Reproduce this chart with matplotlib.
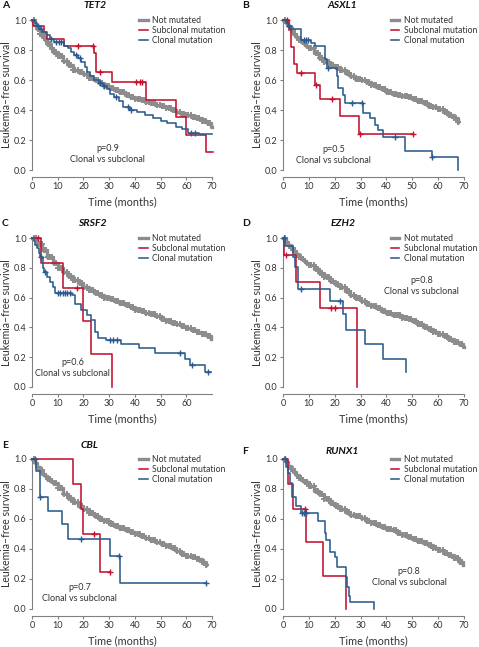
import numpy as np
import matplotlib
matplotlib.use("Agg")
import matplotlib.pyplot as plt

plt.rcParams['font.family'] = ['Lato', 'DejaVu Sans']

GRAY = '#8c8c8c'
RED = '#c4122f'
BLUE = '#2a5b8c'
SPINE = '#808080'
TXT = '#333333'

panel_letters = ['A', 'B', 'C', 'D', 'E', 'F']
genes = ['TET2', 'ASXL1', 'SRSF2', 'EZH2', 'CBL', 'RUNX1']
pvals = ['p=0.9', 'p=0.5', 'p=0.6', 'p=0.8', 'p=0.7', 'p=0.8']
comparison = 'Clonal vs subclonal'
legend_labels = ['Not mutated', 'Subclonal mutation', 'Clonal mutation']
y_ticks = [0.0, 0.2, 0.4, 0.6, 0.8, 1.0]
x_ticks_full = [0, 10, 20, 30, 40, 50, 60, 70]
x_ticks_c = [0, 10, 20, 30, 40, 50, 60]

# shared censoring times drawn on the "not mutated" curves
gray_censor = [0.8, 1.6, 2.3, 3.1, 3.8, 4.6, 5.3, 6.1, 6.9, 7.6, 8.4, 9.2, 10.1, 10.9,
               11.8, 12.6, 13.5, 14.3, 15.2, 16.0, 16.9, 17.8, 18.6, 19.5, 20.4, 21.2,
               22.1, 23.0, 23.8, 24.7, 25.5, 26.4, 27.3, 28.1, 29.0, 29.9, 30.7, 31.6,
               32.5, 33.3, 34.2, 35.1, 35.9, 36.8, 37.6, 38.5, 39.4, 40.2, 41.1, 41.9,
               42.8, 43.6, 44.5, 45.4, 46.2, 47.1, 47.9, 48.8, 49.6, 50.5, 51.4, 52.2,
               53.1, 53.9, 54.8, 55.7, 56.5, 57.4, 58.2, 59.1, 60.0, 60.8, 61.7, 62.5,
               63.4, 64.2, 65.1, 66.0, 66.8, 67.7, 68.5, 69.3]

# ---------------- A: TET2 ----------------
a_gray_t = [1, 2, 3, 4, 5, 6, 7, 8, 10, 12, 14, 16, 18, 20, 22, 24, 26, 28, 30, 32, 34, 36,
            38, 40, 42, 44, 46, 48, 50, 52, 54, 56, 58, 60, 62, 64, 66, 68, 69.5]
a_gray_s = [0.97, 0.94, 0.91, 0.89, 0.87, 0.84, 0.81, 0.79, 0.76, 0.73, 0.70, 0.67, 0.655,
            0.64, 0.615, 0.60, 0.58, 0.56, 0.545, 0.535, 0.52, 0.50, 0.49, 0.475, 0.465,
            0.455, 0.445, 0.435, 0.425, 0.415, 0.40, 0.385, 0.375, 0.365, 0.355, 0.345,
            0.33, 0.315, 0.29]
a_gray_end = 70
a_red_t = [0.5, 4.5, 6.0, 12.3, 24.0, 24.8, 31.0, 44.3, 56.0, 60.0, 67.5]
a_red_s = [0.96, 0.92, 0.875, 0.83, 0.78, 0.655, 0.59, 0.47, 0.355, 0.235, 0.118]
a_red_cens = [17.8, 23.8, 26.6, 40.4, 41.9, 42.8]
a_red_end = 70.5
a_blue_t = [1, 2, 3, 4, 5.5, 7, 8.5, 12.5, 14, 15, 16.5, 18, 19, 20.5, 21.5, 22.5, 24, 26,
            27.5, 29, 30.5, 32, 34, 35.5, 38, 41, 44, 47, 50, 52.5, 56, 58.5, 60.7, 65]
a_blue_s = [0.98, 0.96, 0.94, 0.92, 0.90, 0.875, 0.855, 0.83, 0.81, 0.79, 0.77, 0.745, 0.72,
            0.69, 0.655, 0.625, 0.60, 0.58, 0.56, 0.54, 0.51, 0.49, 0.46, 0.42, 0.40, 0.385,
            0.365, 0.345, 0.33, 0.315, 0.29, 0.275, 0.25, 0.24]
a_blue_cens = [2.5, 3.5, 7.5, 9.5, 10.5, 11.2, 17.0, 18.5, 26.5, 28.0, 32.5, 37.4, 38.4,
               62.0, 63.3]
a_blue_end = 70

# ---------------- B: ASXL1 ----------------
b_gray_t = [1, 2, 3, 4, 5, 6, 7, 8, 9, 10, 12, 14, 16, 18, 20, 22, 24, 26, 28, 30, 32, 34,
            36, 38, 40, 42, 44, 46, 48, 50, 52, 54, 56, 58, 60, 62, 64, 66, 67.5]
b_gray_s = [0.98, 0.96, 0.935, 0.91, 0.89, 0.87, 0.855, 0.84, 0.826, 0.81, 0.78, 0.75,
            0.72, 0.70, 0.685, 0.67, 0.65, 0.63, 0.61, 0.60, 0.585, 0.57, 0.555, 0.54,
            0.52, 0.51, 0.50, 0.495, 0.49, 0.475, 0.46, 0.445, 0.43, 0.42, 0.405, 0.39,
            0.37, 0.345, 0.32]
b_gray_end = 67.8
b_red_t = [2.3, 3.0, 4.2, 5.3, 12.3, 14.2, 22.0, 29.2]
b_red_s = [0.94, 0.82, 0.71, 0.645, 0.57, 0.476, 0.357, 0.238]
b_red_cens = [1.5, 7.1, 12.8, 19.0, 29.6, 50.2]
b_red_end = 50.2
b_blue_t = [1.3, 2.0, 3.0, 7.1, 11.0, 12.5, 16.1, 17.0, 20.7, 21.3, 23.2, 24.0, 31.0,
            33.6, 35.5, 36.7, 38.5, 47.0, 57.5, 67.6]
b_blue_s = [0.98, 0.96, 0.94, 0.87, 0.85, 0.83, 0.74, 0.68, 0.625, 0.55, 0.50, 0.447,
            0.38, 0.345, 0.30, 0.265, 0.22, 0.13, 0.087, 0.0]
b_blue_cens = [2.5, 8.0, 9.0, 9.8, 17.4, 26.5, 30.5, 43.3, 57.6]
b_blue_end = 67.6

# ---------------- C: SRSF2 ----------------
c_gray_t = [2, 4, 6, 8, 10, 12, 14, 16, 18, 20, 22, 24, 26, 28, 30, 32, 34, 36, 38, 40,
            42, 44, 46, 48, 50, 52, 54, 56, 58, 60, 62, 64, 66, 68, 69.5]
c_gray_s = [0.96, 0.92, 0.87, 0.83, 0.80, 0.77, 0.745, 0.72, 0.695, 0.67, 0.65, 0.63,
            0.615, 0.60, 0.59, 0.58, 0.565, 0.55, 0.535, 0.52, 0.51, 0.50, 0.49, 0.475,
            0.455, 0.44, 0.43, 0.42, 0.41, 0.395, 0.38, 0.37, 0.355, 0.34, 0.32]
c_gray_end = 69.8
c_red_t = [3.6, 11.9, 19.9, 23.1, 31.2]
c_red_s = [0.833, 0.667, 0.444, 0.222, 0.0]
c_red_cens = [2.2, 17.6]
c_red_end = 31.2
c_blue_t = [0.6, 1.2, 1.9, 2.6, 3.2, 4.2, 4.6, 5.8, 7.0, 8.3, 9.0, 15.4, 16.7, 19.2,
            21.2, 23.1, 24.4, 25.6, 28.8, 34.6, 41.7, 48.0, 59.6, 61.5, 67.3]
c_blue_s = [0.98, 0.955, 0.93, 0.90, 0.87, 0.80, 0.77, 0.74, 0.705, 0.67, 0.63, 0.615,
            0.56, 0.52, 0.48, 0.45, 0.37, 0.33, 0.315, 0.29, 0.26, 0.225, 0.19, 0.147,
            0.10]
c_blue_cens = [3.5, 5.2, 10.0, 11.0, 12.0, 13.0, 13.6, 14.6, 30.5, 31.5, 33.0, 57.7,
               62.2, 68.5]
c_blue_end = 69.6

# ---------------- D: EZH2 ----------------
d_gray_t = [1, 2, 3, 4, 5, 6, 7, 8, 9, 10, 12, 14, 16, 18, 20, 22, 24, 26, 28, 30, 32, 34,
            36, 38, 40, 42, 44, 46, 48, 50, 52, 54, 56, 58, 60, 62, 64, 66, 68, 69.5]
d_gray_s = [0.975, 0.955, 0.935, 0.91, 0.89, 0.87, 0.86, 0.845, 0.835, 0.82, 0.79, 0.765,
            0.74, 0.71, 0.69, 0.67, 0.645, 0.615, 0.595, 0.575, 0.56, 0.545, 0.53, 0.51,
            0.495, 0.485, 0.48, 0.465, 0.455, 0.44, 0.425, 0.405, 0.39, 0.37, 0.355, 0.34,
            0.325, 0.305, 0.29, 0.27]
d_gray_end = 70
d_red_t = [0.3, 4.9, 14.2, 28.8]
d_red_s = [0.884, 0.705, 0.527, 0.0]
d_red_cens = [1.0, 18.7, 20.0]
d_red_end = 28.8
d_blue_t = [0.6, 3.9, 4.5, 5.8, 18.1, 23.3, 24.5, 31.7, 38.8, 47.4]
d_blue_s = [0.946, 0.873, 0.806, 0.656, 0.576, 0.493, 0.38, 0.288, 0.188, 0.098]
d_blue_cens = [0.3, 6.8, 22.2]
d_blue_end = 47.4

# ---------------- E: CBL ----------------
e_gray_t = [1, 2, 3, 4, 5, 6, 7, 8, 10, 12, 14, 16, 18, 20, 22, 24, 26, 28, 30, 32, 34,
            36, 38, 40, 42, 44, 46, 48, 50, 52, 54, 56, 58, 60, 62, 64, 66, 67.5]
e_gray_s = [0.975, 0.95, 0.925, 0.90, 0.885, 0.87, 0.855, 0.84, 0.805, 0.77, 0.74, 0.715,
            0.69, 0.665, 0.64, 0.62, 0.60, 0.585, 0.57, 0.555, 0.54, 0.53, 0.515, 0.50,
            0.49, 0.475, 0.46, 0.45, 0.435, 0.42, 0.405, 0.39, 0.37, 0.355, 0.345, 0.335,
            0.315, 0.295]
e_gray_end = 67.8
e_red_t = [16.1, 19.1, 20.0, 26.6]
e_red_s = [0.833, 0.667, 0.5, 0.25]
e_red_cens = [24.0, 30.2]
e_red_end = 30.2
e_blue_t = [1.7, 3.0, 6.3, 11.5, 14.1, 30.2, 34.2]
e_blue_s = [0.917, 0.75, 0.655, 0.564, 0.47, 0.353, 0.176]
e_blue_cens = [1.0, 3.1, 19.1, 33.8, 67.5]
e_blue_end = 67.5

# ---------------- F: RUNX1 ----------------
f_gray_t = [1, 2, 3, 4, 5, 6, 7, 8, 10, 12, 14, 16, 18, 20, 22, 24, 26, 28, 30, 32, 34,
            36, 38, 40, 42, 44, 46, 48, 50, 52, 54, 56, 58, 60, 62, 64, 66, 68, 69.5]
f_gray_s = [0.98, 0.955, 0.935, 0.915, 0.895, 0.875, 0.86, 0.845, 0.82, 0.79, 0.765,
            0.735, 0.71, 0.69, 0.665, 0.645, 0.63, 0.62, 0.605, 0.59, 0.575, 0.56, 0.545,
            0.535, 0.525, 0.51, 0.495, 0.48, 0.465, 0.455, 0.44, 0.425, 0.41, 0.395,
            0.375, 0.36, 0.34, 0.315, 0.295]
f_gray_end = 69.8
f_red_t = [1.9, 4.0, 8.8, 15.3, 24.5]
f_red_s = [0.833, 0.667, 0.444, 0.222, 0.0]
f_red_cens = [8.4]
f_red_end = 24.5
f_blue_t = [1.3, 1.9, 2.6, 3.6, 4.9, 7.1, 13.6, 16.1, 16.8, 18.1, 20.0, 20.7, 24.5,
            24.8, 25.6, 26.1, 35.1]
f_blue_s = [0.95, 0.905, 0.84, 0.75, 0.69, 0.64, 0.59, 0.51, 0.46, 0.38, 0.35, 0.28,
            0.215, 0.15, 0.09, 0.045, 0.0]
f_blue_cens = [0.6, 7.5, 8.2, 9.0]
f_blue_end = 35.1

panels = [
    (a_gray_t, a_gray_s, a_gray_end, a_red_t, a_red_s, a_red_cens, a_red_end,
     a_blue_t, a_blue_s, a_blue_cens, a_blue_end),
    (b_gray_t, b_gray_s, b_gray_end, b_red_t, b_red_s, b_red_cens, b_red_end,
     b_blue_t, b_blue_s, b_blue_cens, b_blue_end),
    (c_gray_t, c_gray_s, c_gray_end, c_red_t, c_red_s, c_red_cens, c_red_end,
     c_blue_t, c_blue_s, c_blue_cens, c_blue_end),
    (d_gray_t, d_gray_s, d_gray_end, d_red_t, d_red_s, d_red_cens, d_red_end,
     d_blue_t, d_blue_s, d_blue_cens, d_blue_end),
    (e_gray_t, e_gray_s, e_gray_end, e_red_t, e_red_s, e_red_cens, e_red_end,
     e_blue_t, e_blue_s, e_blue_cens, e_blue_end),
    (f_gray_t, f_gray_s, f_gray_end, f_red_t, f_red_s, f_red_cens, f_red_end,
     f_blue_t, f_blue_s, f_blue_cens, f_blue_end),
]

# layout (pixels in a 479 x 647 canvas)
W, H = 479, 647
col_x = [(32, 212), (283, 464)]
row_y = [(20, 170), (238, 387), (459, 609)]
title_px = [(95, 6), (342, 6), (92, 223), (343, 223), (90, 446), (342, 452)]
letter_px = [(2, 6), (242, 6), (2, 223), (242, 223), (2, 446), (242, 452)]
ptext_xy = [(29.5, 0.105), (19.6, 0.10), (15.8, 0.13), (53.6, 0.676), (18.5, 0.104),
            (48.8, 0.215)]
legend_top = [1.025, 1.025, 1.03, 1.03, 1.025, 1.025]
legend_left = [0.595, 0.595, 0.595, 0.595, 0.595, 0.595]


def surv_at(t, s, c):
    idx = np.searchsorted(np.asarray(t), c, side='right') - 1
    return 1.0 if idx < 0 else s[idx]


def draw_km(ax, t, s, end, cens, color, lw, ms, mew, z):
    x = np.concatenate([[0.0], t, [end]])
    y = np.concatenate([[1.0], s, [s[-1]]])
    line, = ax.step(x, y, where='post', color=color, lw=lw, clip_on=False, zorder=z)
    cens = [c for c in cens if c <= end]
    cy = [surv_at(t, s, c) for c in cens]
    ax.plot(cens, cy, ls='none', marker='+', ms=ms, mew=mew, color=color,
            clip_on=False, zorder=z)
    return line


fig = plt.figure(figsize=(W / 100, H / 100), dpi=100)

for i in range(6):
    r, c = divmod(i, 2)
    x0, x1 = col_x[c]
    ytop, ybot = row_y[r]
    ax = fig.add_axes([x0 / W, 1 - ybot / H, (x1 - x0) / W, (ybot - ytop) / H])
    (gt, gs, gend, rt, rs, rc, rend, bt, bs, bc, bend) = panels[i]

    h1 = draw_km(ax, gt, gs, gend, gray_censor, GRAY, 2.4, 4.8, 1.4, 2)
    h2 = draw_km(ax, rt, rs, rend, rc, RED, 1.15, 5, 1.0, 3)
    h3 = draw_km(ax, bt, bs, bend, bc, BLUE, 1.15, 5, 1.0, 4)

    ax.set_xlim(0, 70)
    ax.set_ylim(0, 1.0)
    for sp in ['top', 'right']:
        ax.spines[sp].set_visible(False)
    ax.spines['left'].set_color(SPINE)
    ax.spines['bottom'].set_color(SPINE)
    ax.spines['left'].set_linewidth(0.8)
    ax.spines['bottom'].set_linewidth(0.8)
    ax.spines['bottom'].set_position(('outward', 5))
    ax.spines['left'].set_bounds(0, 1)
    ax.spines['bottom'].set_bounds(0, 70)
    ax.set_yticks(y_ticks)
    ax.set_yticklabels([f'{v:.1f}' for v in y_ticks])
    xt = x_ticks_c if i == 2 else x_ticks_full
    ax.set_xticks(xt)
    ax.set_xticklabels([str(v) for v in xt])
    ax.tick_params(axis='both', length=2.2, width=0.8, color=SPINE, labelsize=6.6,
                   labelcolor=TXT, pad=1.5)
    ax.set_xlabel('Time (months)', fontsize=7.8, color=TXT, labelpad=4)
    ax.set_ylabel('Leukemia\u2013free survival', fontsize=7.6, color=TXT, labelpad=1.5)

    leg = ax.legend([h1, h2, h3], legend_labels, loc='upper left',
                    bbox_to_anchor=(legend_left[i], legend_top[i]), frameon=False,
                    fontsize=6.2, handlelength=1.0, handletextpad=0.55,
                    labelspacing=0.12, borderpad=0, borderaxespad=0)
    for txt in leg.get_texts():
        txt.set_color(TXT)

    px, py = ptext_xy[i]
    ax.text(px, py, pvals[i] + '\n' + comparison, ha='center', va='center',
            fontsize=6.5, color=TXT, linespacing=1.3)

    tx, ty = title_px[i]
    fig.text(tx / W, 1 - ty / H, genes[i], ha='center', va='center', fontsize=7.5,
             fontweight='bold', fontstyle='italic', color='#111111')
    lx, ly = letter_px[i]
    fig.text(lx / W, 1 - ly / H, panel_letters[i], ha='left', va='center', fontsize=7.5,
             fontweight='bold', color='#111111')

fig.savefig('out.png', dpi=100)
